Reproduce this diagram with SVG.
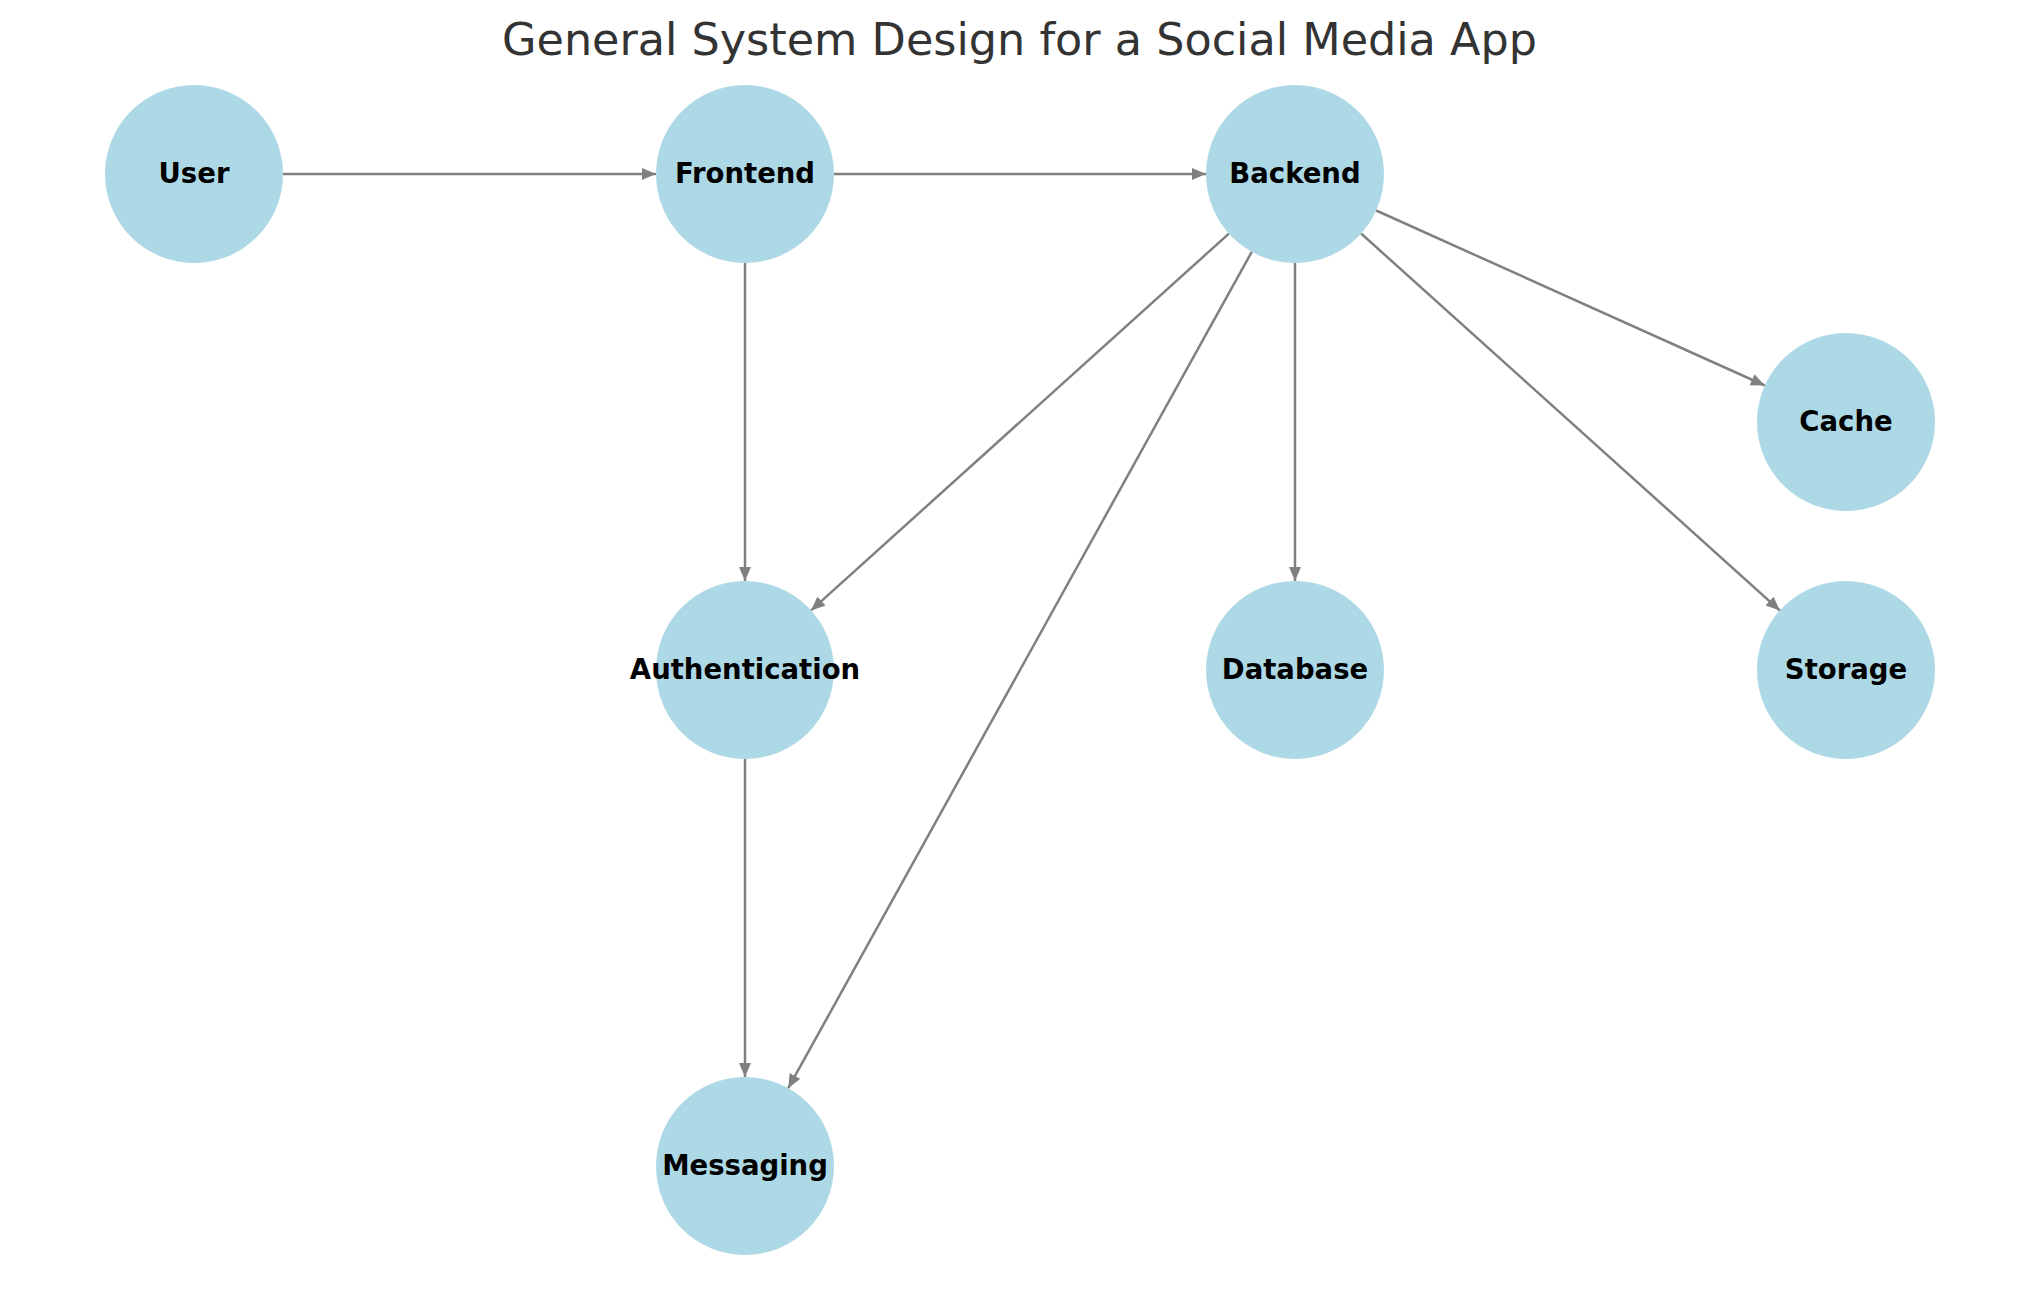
<svg xmlns="http://www.w3.org/2000/svg" width="2039" height="1290" viewBox="0 0 2039 1290">
<style>
.node circle { fill: #ADD8E6; }
.node text { font-family: "DejaVu Sans", sans-serif; font-weight: bold; font-size: 27.5px; fill: #000; text-anchor: middle; }
.edge { stroke: #808080; stroke-width: 2.5; fill: none; marker-end: url(#arrow); }
.title { font-family: "DejaVu Sans", sans-serif; font-size: 44.5px; fill: #333333; text-anchor: middle; }
</style>
<defs>
<marker id="arrow" markerUnits="userSpaceOnUse" markerWidth="16" markerHeight="14" refX="14" refY="6" orient="auto">
<path d="M0,0 L14,6 L0,12 z" fill="#808080"/>
</marker>
</defs>
<rect width="2039" height="1290" fill="#ffffff"/>
<text class="title" x="1019.5" y="55">General System Design for a Social Media App</text>
<g id="connectors">
<line class="edge" x1="283" y1="174" x2="656" y2="174"/>
<line class="edge" x1="834" y1="174" x2="1206" y2="174"/>
<line class="edge" x1="745" y1="263" x2="745" y2="581"/>
<line class="edge" x1="745" y1="759" x2="745" y2="1077"/>
<line class="edge" x1="1295" y1="263" x2="1295" y2="581"/>
<line class="edge" x1="1228.9" y1="233.6" x2="811.1" y2="610.4"/>
<line class="edge" x1="1251.8" y1="251.8" x2="788.2" y2="1088.2"/>
<line class="edge" x1="1376.2" y1="210.5" x2="1764.8" y2="385.5"/>
<line class="edge" x1="1361.1" y1="233.5" x2="1779.9" y2="610.5"/>
</g>
<g id="node-user" class="node"><circle cx="194" cy="174" r="89"/><text x="194" y="183">User</text></g>
<g id="node-frontend" class="node"><circle cx="745" cy="174" r="89"/><text x="745" y="183">Frontend</text></g>
<g id="node-backend" class="node"><circle cx="1295" cy="174" r="89"/><text x="1295" y="183">Backend</text></g>
<g id="node-cache" class="node"><circle cx="1846" cy="422" r="89"/><text x="1846" y="431">Cache</text></g>
<g id="node-authentication" class="node"><circle cx="745" cy="670" r="89"/><text x="745" y="679">Authentication</text></g>
<g id="node-database" class="node"><circle cx="1295" cy="670" r="89"/><text x="1295" y="679">Database</text></g>
<g id="node-storage" class="node"><circle cx="1846" cy="670" r="89"/><text x="1846" y="679">Storage</text></g>
<g id="node-messaging" class="node"><circle cx="745" cy="1166" r="89"/><text x="745" y="1175">Messaging</text></g>
</svg>
